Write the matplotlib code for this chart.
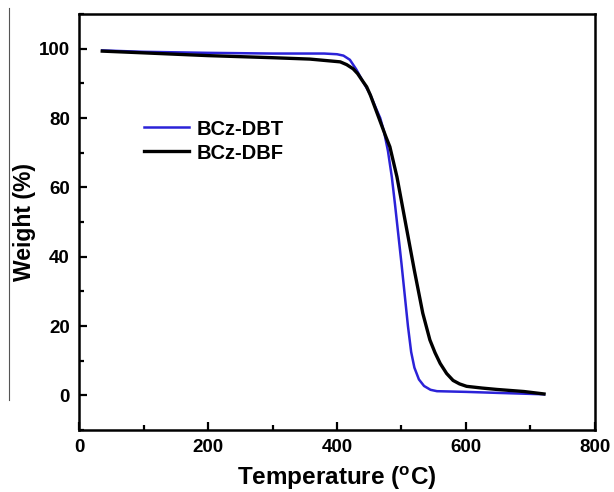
import numpy as np
from matplotlib import pyplot as plt
from matplotlib.lines import Line2D
from matplotlib.ticker import MultipleLocator

plt.rcParams['font.family'] = ['Liberation Sans', 'DejaVu Sans']
plt.rcParams['font.weight'] = 'bold'
plt.rcParams['mathtext.fontset'] = 'custom'
plt.rcParams['mathtext.rm'] = 'Liberation Sans:bold'
plt.rcParams['mathtext.bf'] = 'Liberation Sans:bold'

# TGA curves
dbt_temp = [36, 100, 200, 300, 380, 400, 410, 420, 430, 440, 451, 460, 467, 473,
            479, 485, 490, 495, 500, 505, 510, 515, 520, 527, 535, 545, 555,
            600, 650, 721]
dbt_weight = [99.5, 99.1, 98.8, 98.6, 98.6, 98.4, 98.0, 96.8, 94.0, 90.6, 87.0,
              83.0, 80.0, 76.0, 70.5, 63.0, 55.0, 46.5, 38.0, 29.0, 20.0, 12.5,
              8.0, 4.6, 2.7, 1.6, 1.2, 1.0, 0.7, 0.3]

dbf_temp = [36, 100, 200, 300, 358, 405, 415, 425, 432, 440, 446, 452, 457, 462,
            470, 476, 482, 493, 500, 510, 520, 529, 533, 544, 552, 560, 570, 580,
            590, 601, 625, 648, 690, 721]
dbf_weight = [99.3, 98.8, 98.0, 97.4, 97.0, 96.2, 95.4, 94.2, 92.8, 90.6, 89.0,
              86.5, 84.0, 81.5, 77.5, 74.5, 71.7, 63.0, 56.0, 46.0, 36.0, 27.5,
              23.7, 16.0, 12.3, 9.2, 6.3, 4.3, 3.3, 2.6, 2.1, 1.7, 1.1, 0.4]

labels = ['BCz-DBT', 'BCz-DBF']

fig = plt.figure(figsize=(6.14, 4.92), dpi=100)
ax = fig.add_axes([0.1287, 0.126, 0.8403, 0.8455])

ax.plot(dbt_temp, dbt_weight, color='#2b22d8', lw=1.8, label=labels[0])
ax.plot(dbf_temp, dbf_weight, color='black', lw=2.4, label=labels[1])

ax.set_xlim(0, 800)
ax.set_ylim(-10, 110)
ax.xaxis.set_major_locator(MultipleLocator(200))
ax.xaxis.set_minor_locator(MultipleLocator(100))
ax.yaxis.set_major_locator(MultipleLocator(20))
ax.yaxis.set_minor_locator(MultipleLocator(10))
ax.tick_params(which='both', direction='in', width=1.6, labelsize=13.5, pad=6.5,
               top=False, right=False)
ax.tick_params(which='major', length=6)
ax.tick_params(which='minor', length=3.5)
for s in ax.spines.values():
    s.set_linewidth(1.8)

ax.set_xlabel('Temperature ($^{\\mathrm{o}}$C)', fontsize=17.5, fontweight='bold', labelpad=6)
ax.set_ylabel('Weight (%)', fontsize=16.5, fontweight='bold', labelpad=2)

ax.legend(loc='upper left', bbox_to_anchor=(0.09, 0.79), frameon=False, fontsize=14.5,
          handlelength=2.25, handletextpad=0.4, labelspacing=0.25)

# thin scan edge on the left side of the picture
fig.add_artist(Line2D([9 / 614, 9 / 614], [1 - 8 / 492, 1 - 400 / 492],
                      color='#555555', lw=0.8))

fig.savefig('out.png', dpi=100)
